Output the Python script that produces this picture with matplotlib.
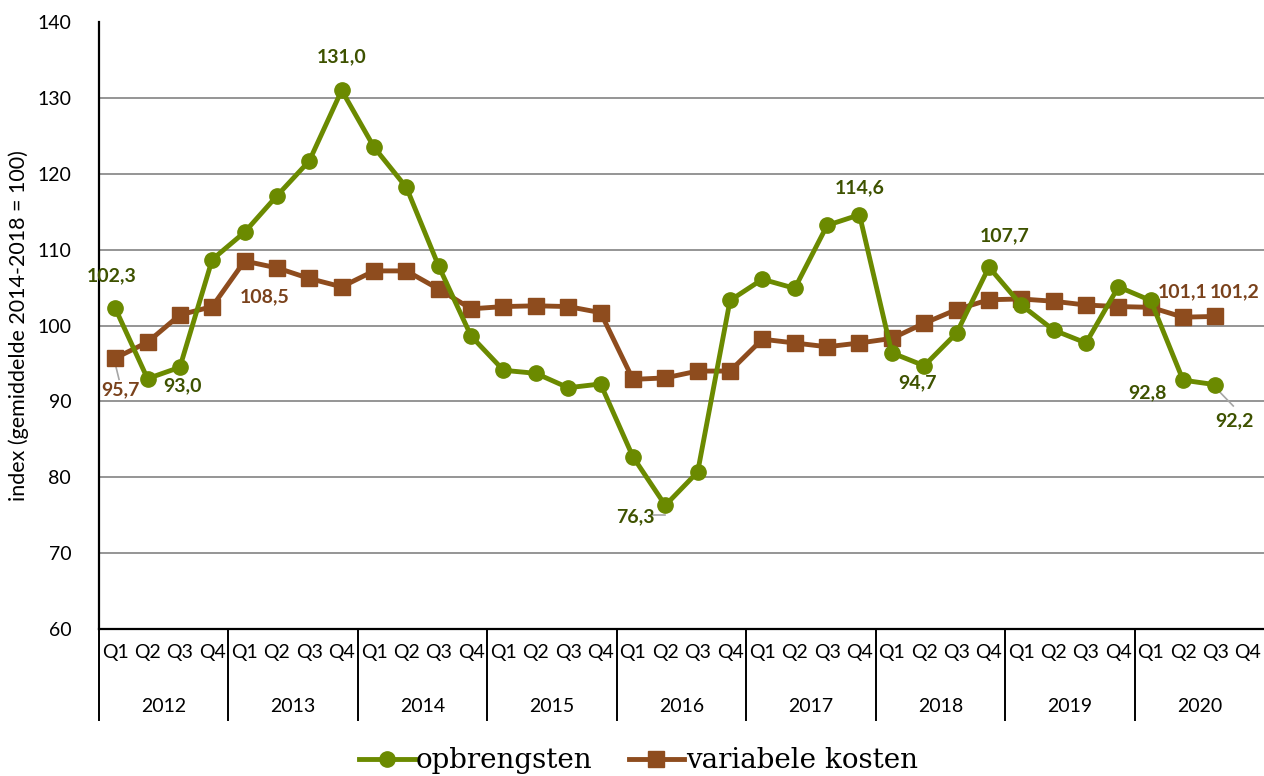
import numpy as np
import matplotlib
matplotlib.use('Agg')
import matplotlib.pyplot as plt
import matplotlib.transforms as mtransforms

years = ['2012', '2013', '2014', '2015', '2016', '2017', '2018', '2019', '2020']
quarters = ['Q1', 'Q2', 'Q3', 'Q4']

opbrengsten = [102.3, 93.0, 94.5, 108.7,
               112.3, 117.1, 121.7, 131.0,
               123.5, 118.2, 107.8, 98.6,
               94.1, 93.7, 91.8, 92.3,
               82.7, 76.3, 80.7, 103.3,
               106.1, 104.9, 113.2, 114.6,
               96.4, 94.7, 99.0, 107.7,
               102.7, 99.4, 97.7, 105.1,
               103.3, 92.8, 92.2]
variabele_kosten = [95.7, 97.8, 101.4, 102.5,
                    108.5, 107.6, 106.2, 105.1,
                    107.2, 107.2, 104.8, 102.2,
                    102.5, 102.6, 102.5, 101.7,
                    92.9, 93.1, 94.0, 94.0,
                    98.2, 97.7, 97.2, 97.7,
                    98.3, 100.3, 102.1, 103.4,
                    103.5, 103.2, 102.7, 102.5,
                    102.4, 101.1, 101.2]

GREEN = '#6b8a00'
BROWN = '#8e4c1e'
GREEN_TXT = '#3e5200'
BROWN_TXT = '#7a421c'
LEADER = '#a6a6a6'

plt.rcParams['font.family'] = ['Lato', 'DejaVu Sans']

fig = plt.figure(figsize=(12.64, 7.76), dpi=100)
ax = fig.add_axes([0.0783, 0.1894, 0.9217, 0.7822])

x_o = np.arange(len(opbrengsten))
x_v = np.arange(len(variabele_kosten))

ax.plot(x_v, variabele_kosten, color=BROWN, lw=3.5, marker='s', ms=11,
        label='variabele kosten', zorder=3)
ax.plot(x_o, opbrengsten, color=GREEN, lw=3.5, marker='o', ms=11,
        label='opbrengsten', zorder=4)

n_slots = len(years) * len(quarters)
ax.set_xlim(-0.5, n_slots - 0.5)
ax.set_ylim(60, 140)
ax.set_yticks(range(60, 141, 10))
ax.tick_params(axis='y', labelsize=14, length=0, pad=20)
for yv in range(70, 140, 10):
    ax.axhline(yv, color='#8c8c8c', lw=1.3, zorder=1)

for s in ['top', 'right']:
    ax.spines[s].set_visible(False)
ax.spines['left'].set_linewidth(1.6)
ax.spines['bottom'].set_linewidth(1.6)

ax.set_xticks(range(n_slots))
ax.set_xticklabels(quarters * len(years), fontsize=14)
ax.tick_params(axis='x', length=0, pad=11)

# second level of the category axis: years with separators
trans = mtransforms.blended_transform_factory(ax.transData, ax.transAxes)
for i, yr in enumerate(years):
    ax.text(i * 4 + 1.5, -0.128, yr, transform=trans, ha='center', va='center',
            fontsize=14)
    ax.plot([i * 4 - 0.5, i * 4 - 0.5], [0, -0.15], transform=trans,
            color='black', lw=1.4, clip_on=False)

ax.set_ylabel('index (gemiddelde 2014-2018 = 100)', fontsize=15.5, labelpad=6)

# data labels
lab_kw = dict(fontsize=14, fontweight='bold', ha='center', va='center')
ax.text(-0.1, 106.5, '102,3', color=GREEN_TXT, **lab_kw)
ax.text(2.07, 92.1, '93,0', color=GREEN_TXT, **lab_kw)
ax.text(7, 135.4, '131,0', color=GREEN_TXT, **lab_kw)
ax.text(16.08, 74.8, '76,3', color=GREEN_TXT, **lab_kw)
ax.plot([16.6, 17], [75.0, 75.0], color=LEADER, lw=1.2)
ax.text(23, 118.1, '114,6', color=GREEN_TXT, **lab_kw)
ax.text(24.8, 92.4, '94,7', color=GREEN_TXT, **lab_kw)
ax.text(27.5, 111.8, '107,7', color=GREEN_TXT, **lab_kw)
ax.text(31.9, 91.2, '92,8', color=GREEN_TXT, **lab_kw)
ax.text(34.6, 87.4, '92,2', color=GREEN_TXT, **lab_kw)
ax.plot([34.05, 34.55], [91.6, 89.4], color=LEADER, lw=1.2)

ax.text(0.15, 91.5, '95,7', color=BROWN_TXT, **lab_kw)
ax.plot([0, 0.12], [95.0, 92.9], color=LEADER, lw=1.2)
ax.text(4.63, 103.8, '108,5', color=BROWN_TXT, **lab_kw)
ax.text(33.0, 104.4, '101,1', color=BROWN_TXT, **lab_kw)
ax.text(34.6, 104.4, '101,2', color=BROWN_TXT, **lab_kw)

handles, labels = ax.get_legend_handles_labels()
fig.legend(handles[::-1], labels[::-1], loc='lower center',
           bbox_to_anchor=(0.505, -0.03), ncol=2, frameon=False,
           prop={'family': 'DejaVu Serif', 'size': 20}, handlelength=2.0,
           handletextpad=0.05, columnspacing=1.3)

fig.savefig('out.png', dpi=100)
